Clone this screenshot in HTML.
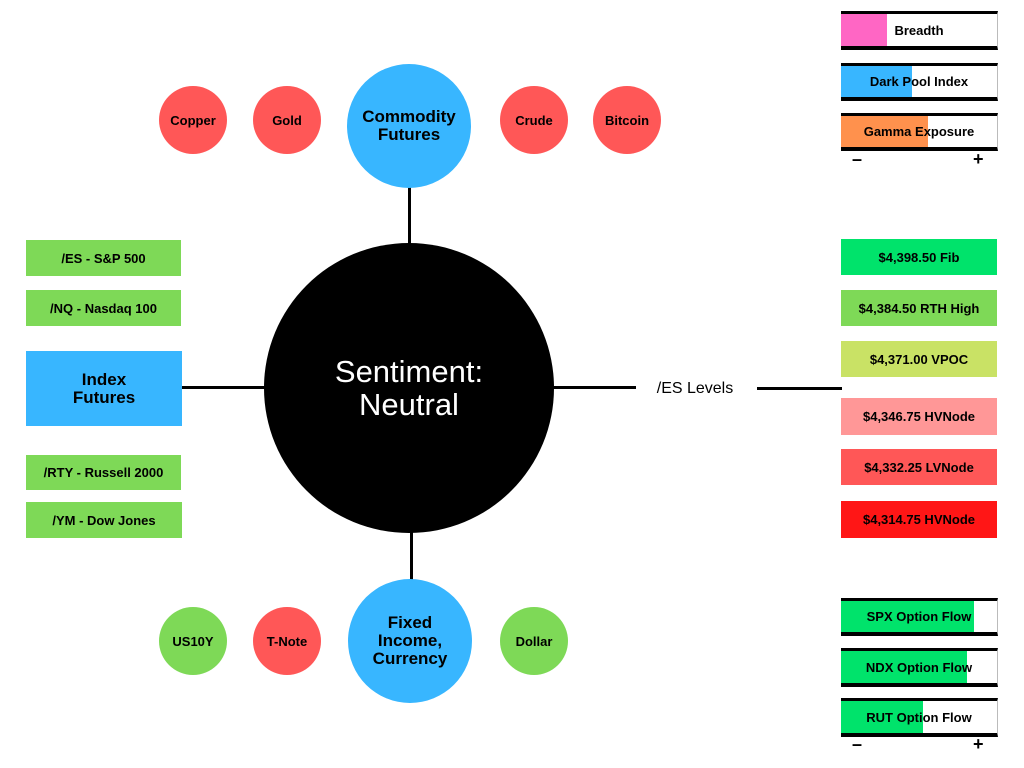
<!DOCTYPE html>
<html><head><style>
body{margin:0;width:1024px;height:768px;background:#fff;position:relative;overflow:hidden;font-family:"Liberation Sans",sans-serif;font-weight:bold;color:#000}
.a{position:absolute;box-sizing:border-box;display:flex;align-items:center;justify-content:center;text-align:center}
.c{border-radius:50%}
.sm{width:68px;height:68px;background:#ff5757;font-size:13px}
.g{background:#7ed957}
.bx{font-size:13px}
.ln{position:absolute;background:#000}
.bar{position:absolute;box-sizing:border-box;left:841px;width:157px;border-top:3px solid #000;border-bottom:4px solid #000;border-right:1px solid #bbb;background:#fff;font-size:13px}
.bar .f{position:absolute;left:0;top:0;bottom:0}
.bar span{position:absolute;left:0;right:0;top:0;bottom:0;display:flex;align-items:center;justify-content:center}
.pm{position:absolute;font-size:18px;font-weight:bold}
</style></head><body>
<div class="ln" style="left:408px;top:186px;width:3px;height:60px"></div>
<div class="ln" style="left:410px;top:530px;width:3px;height:52px"></div>
<div class="ln" style="left:180px;top:386px;width:86px;height:3px"></div>
<div class="ln" style="left:552px;top:386px;width:84px;height:3px"></div>
<div class="ln" style="left:757px;top:387px;width:85px;height:3px"></div>
<div class="a" style="left:640px;top:378px;width:110px;height:22px;font-weight:normal;font-size:16px">/ES Levels</div>

<div class="a c" style="left:264px;top:243px;width:290px;height:290px;background:#000;color:#fff;font-weight:normal;font-size:31px;line-height:33px">Sentiment:<br>Neutral</div>
<div class="a c" style="left:347px;top:64px;width:124px;height:124px;background:#38b6ff;font-size:17px;line-height:18px">Commodity<br>Futures</div>
<div class="a c" style="left:348px;top:579px;width:124px;height:124px;background:#38b6ff;font-size:17px;line-height:18px">Fixed<br>Income,<br>Currency</div>

<div class="a c sm" style="left:159px;top:86px">Copper</div>
<div class="a c sm" style="left:253px;top:86px">Gold</div>
<div class="a c sm" style="left:500px;top:86px">Crude</div>
<div class="a c sm" style="left:593px;top:86px">Bitcoin</div>
<div class="a c sm g" style="left:159px;top:607px">US10Y</div>
<div class="a c sm" style="left:253px;top:607px">T-Note</div>
<div class="a c sm g" style="left:500px;top:607px">Dollar</div>

<div class="a bx g" style="left:26px;top:240px;width:155px;height:36px">/ES - S&amp;P 500</div>
<div class="a bx g" style="left:26px;top:290px;width:155px;height:36px">/NQ - Nasdaq 100</div>
<div class="a" style="left:26px;top:351px;width:156px;height:75px;background:#38b6ff;font-size:17px;line-height:18px">Index<br>Futures</div>
<div class="a bx g" style="left:26px;top:455px;width:155px;height:35px">/RTY - Russell 2000</div>
<div class="a bx g" style="left:26px;top:502px;width:156px;height:36px">/YM - Dow Jones</div>

<div class="a bx" style="left:841px;top:239px;width:156px;height:36px;background:#00e36b">$4,398.50 Fib</div>
<div class="a bx g" style="left:841px;top:290px;width:156px;height:36px">$4,384.50 RTH High</div>
<div class="a bx" style="left:841px;top:341px;width:156px;height:36px;background:#c9e265">$4,371.00 VPOC</div>
<div class="a bx" style="left:841px;top:398px;width:156px;height:37px;background:#ff9797">$4,346.75 HVNode</div>
<div class="a bx" style="left:841px;top:449px;width:156px;height:36px;background:#ff5757">$4,332.25 LVNode</div>
<div class="a bx" style="left:841px;top:501px;width:156px;height:37px;background:#ff1616">$4,314.75 HVNode</div>

<div class="bar" style="top:11px;height:39px"><div class="f" style="width:46px;background:#ff66c4"></div><span>Breadth</span></div>
<div class="bar" style="top:63px;height:38px"><div class="f" style="width:71px;background:#38b6ff"></div><span>Dark Pool Index</span></div>
<div class="bar" style="top:113px;height:38px"><div class="f" style="width:87px;background:#ff914d"></div><span>Gamma Exposure</span></div>
<div class="pm" style="left:852px;top:149px">–</div>
<div class="pm" style="left:973px;top:149px">+</div>

<div class="bar" style="top:598px;height:38px"><div class="f" style="width:133px;background:#00e36b"></div><span>SPX Option Flow</span></div>
<div class="bar" style="top:648px;height:39px"><div class="f" style="width:126px;background:#00e36b"></div><span>NDX Option Flow</span></div>
<div class="bar" style="top:698px;height:39px"><div class="f" style="width:82px;background:#00e36b"></div><span>RUT Option Flow</span></div>
<div class="pm" style="left:852px;top:734px">–</div>
<div class="pm" style="left:973px;top:734px">+</div>
</body></html>
